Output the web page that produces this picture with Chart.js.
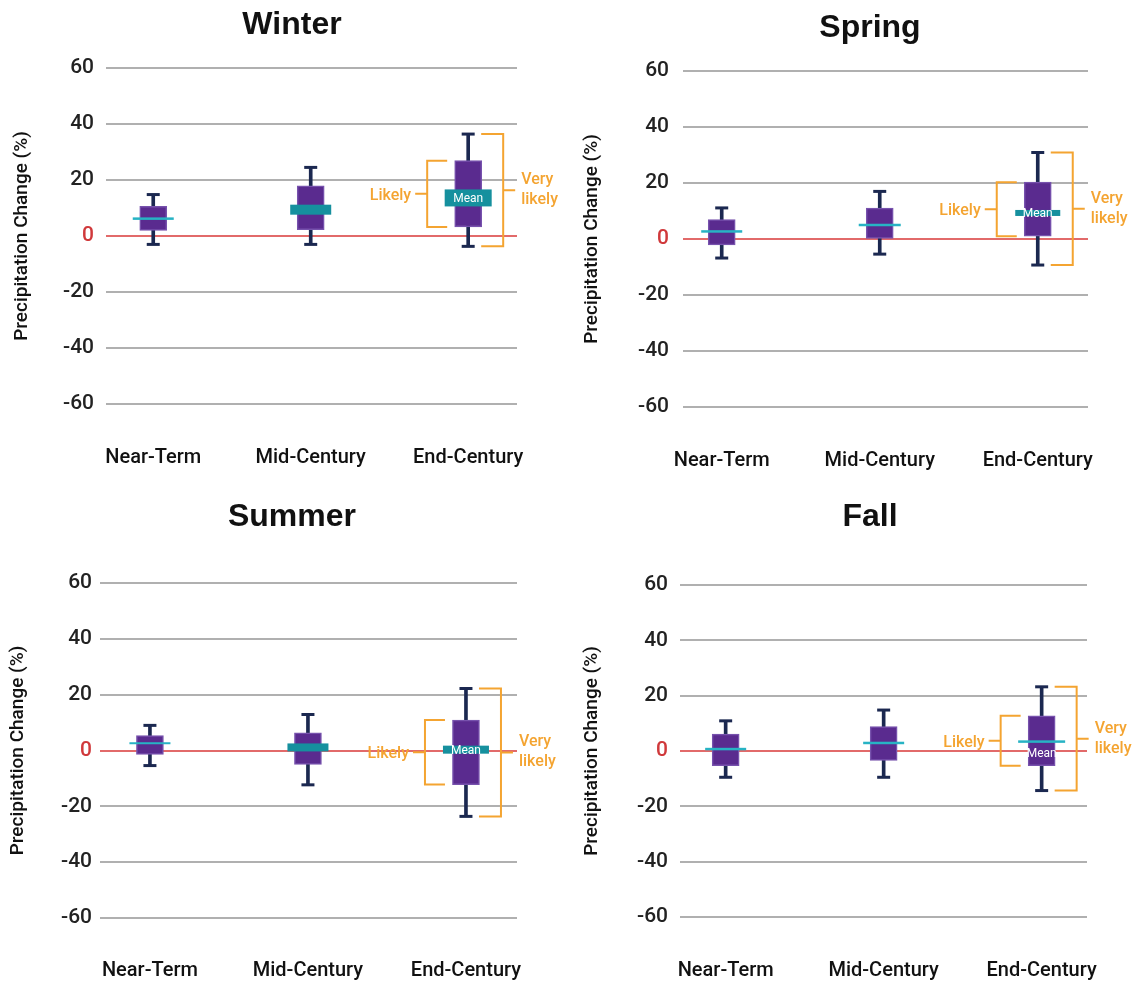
<!DOCTYPE html>
<html>
<head>
<meta charset="utf-8">
<title>Projected seasonal precipitation change</title>
<script src="https://cdn.jsdelivr.net/npm/chart.js@4.4.1/dist/chart.umd.min.js"></script>
<style>
  body { margin: 0; background: #fff; }
  #wrap { position: relative; width: 1142px; height: 983px; }
  #wrap canvas { position: absolute; }
</style>
</head>
<body>
<div id="wrap">
  <canvas id="c0" width="571" height="490" style="left:0;top:0"></canvas>
  <canvas id="c1" width="571" height="490" style="left:571px;top:0"></canvas>
  <canvas id="c2" width="571" height="493" style="left:0;top:490px"></canvas>
  <canvas id="c3" width="571" height="493" style="left:571px;top:490px"></canvas>
</div>
<script>
const seasons = ["Winter", "Spring", "Summer", "Fall"];
const periods = ["Near-Term", "Mid-Century", "End-Century"];
const yTicks = [-60, -40, -20, 0, 20, 40, 60];

// rows = seasons, columns = periods, precipitation change in %
const veryLikelyLow = [[-3.0, -3.0, -3.7], [-6.8, -5.4, -9.3], [-5.4, -12.3, -23.6], [-9.5, -9.5, -14.3]];
const likelyLow = [[2.0, 2.3, 3.2], [-2.1, 0.2, 1.0], [-1.4, -5.0, -12.2], [-5.3, -3.4, -5.3]];
const meanChange = [[6.2, 9.4, 13.6], [2.7, 5.0, 9.3], [2.6, 1.1, 0.3], [0.7, 2.9, 3.4]];
const likelyHigh = [[10.6, 17.9, 26.9], [6.9, 11.0, 20.3], [5.3, 6.3, 10.9], [6.1, 8.8, 12.7]];
const veryLikelyHigh = [[14.8, 24.5, 36.4], [11.1, 17.0, 30.9], [9.0, 12.9, 22.2], [10.9, 14.8, 23.2]];

const PURPLE = "#5a2b8f";
const NAVY = "#1b2850";
const TEAL = "#16909e";
const CYAN = "#27b3c4";
const ORANGE = "#f4a431";
const ZERO = "#e26a6a";
const GRID = "#b0b0b0";
const FONT = "Roboto, 'Liberation Sans', Arial, sans-serif";
const TITLE_FONT = "'Liberation Sans', Arial, sans-serif";

// panel layout: chart area is [left, top, right, bottom] inside each canvas
const panels = [
  { h: 490, area: [106, 68, 517, 404], titleX: 292, titleY: 25, yTitlePad: 11, tickPad: 12, xRange: [0.70, 3.31], xLabelPad: 34 },
  { h: 490, area: [112, 71, 517, 407], titleX: 299, titleY: 28, yTitlePad: 10, tickPad: 14, xRange: [0.755, 3.318], xLabelPad: 34 },
  { h: 493, area: [100, 93, 517, 428], titleX: 292, titleY: 27, yTitlePad: 7, tickPad: 8, xRange: [0.684, 3.323], xLabelPad: 33 },
  { h: 493, area: [109, 95, 516, 427], titleX: 299, titleY: 27, yTitlePad: 10, tickPad: 12, xRange: [0.711, 3.287], xLabelPad: 34 }
];

// how the mean marker looks for each period (width/height in px)
const meanStyles = [
  [{ w: 41, h: 2.5 }, { w: 41, h: 10 }, { w: 47, h: 17, label: true }],
  [{ w: 41, h: 2.5 }, { w: 42, h: 2.5 }, { w: 45, h: 6, label: true }],
  [{ w: 41, h: 2 }, { w: 41, h: 8 }, { w: 46, h: 8, label: true }],
  [{ w: 41, h: 2.5 }, { w: 41, h: 2.5 }, { w: 47, h: 2.5, label: true, below: true }]
];

function makeExtras(s, p) {
  return {
    id: "extras",
    afterDatasetsDraw(chart) {
      const ctx = chart.ctx;
      const x = chart.scales.x;
      const y = chart.scales.y;
      ctx.save();
      // mean markers
      meanChange[s].forEach((m, i) => {
        const st = meanStyles[s][i];
        const px = x.getPixelForValue(i + 1);
        const py = y.getPixelForValue(m);
        ctx.fillStyle = st.h > 3 ? TEAL : CYAN;
        ctx.fillRect(px - st.w / 2, py - st.h / 2, st.w, st.h);
        if (st.label) {
          ctx.fillStyle = "#fff";
          ctx.font = "12px " + FONT;
          ctx.textAlign = "center";
          ctx.textBaseline = "middle";
          ctx.fillText("Mean", px, st.below ? py + 12 : py + 1);
        }
      });
      // likely / very likely brackets on the last period
      const i = periods.length - 1;
      const xc = x.getPixelForValue(i + 1);
      ctx.strokeStyle = ORANGE;
      ctx.lineWidth = 2;
      ctx.fillStyle = ORANGE;
      ctx.font = "500 16px " + FONT;
      ctx.textBaseline = "middle";

      const lt = y.getPixelForValue(likelyHigh[s][i]);
      const lb = y.getPixelForValue(likelyLow[s][i]);
      const lm = (lt + lb) / 2;
      ctx.beginPath();
      ctx.moveTo(xc - 21, lt); ctx.lineTo(xc - 41, lt); ctx.lineTo(xc - 41, lb); ctx.lineTo(xc - 21, lb);
      ctx.moveTo(xc - 41, lm); ctx.lineTo(xc - 53, lm);
      ctx.stroke();
      ctx.textAlign = "right";
      ctx.fillText("Likely", xc - 57, lm + 2);

      const vt = y.getPixelForValue(veryLikelyHigh[s][i]);
      const vb = y.getPixelForValue(veryLikelyLow[s][i]);
      const vm = (vt + vb) / 2;
      ctx.beginPath();
      ctx.moveTo(xc + 13, vt); ctx.lineTo(xc + 35, vt); ctx.lineTo(xc + 35, vb); ctx.lineTo(xc + 13, vb);
      ctx.moveTo(xc + 35, vm); ctx.lineTo(xc + 47, vm);
      ctx.stroke();
      ctx.textAlign = "left";
      ctx.fillText("Very", xc + 53, vm - 10);
      ctx.fillText("likely", xc + 53, vm + 10);
      ctx.restore();
    },
    afterDraw(chart) {
      const ctx = chart.ctx;
      ctx.save();
      ctx.fillStyle = "#111";
      ctx.font = "bold 32px " + TITLE_FONT;
      ctx.textAlign = "center";
      ctx.textBaseline = "middle";
      ctx.fillText(seasons[s], p.titleX, p.titleY);
      ctx.restore();
    }
  };
}

seasons.forEach((season, s) => {
  const p = panels[s];
  const a = p.area;
  const canvas = document.getElementById("c" + s);
  const caps = [];
  periods.forEach((_, i) => {
    caps.push({ x: i + 1, y: veryLikelyHigh[s][i] });
    caps.push({ x: i + 1, y: veryLikelyLow[s][i] });
  });

  new Chart(canvas, {
    type: "bar",
    data: {
      datasets: [
        {
          type: "line",
          label: "very likely ends",
          data: caps,
          showLine: false,
          pointStyle: "line",
          pointRadius: 6.5,
          pointBorderWidth: 3,
          pointBorderColor: NAVY,
          borderColor: NAVY,
          order: 1
        },
        {
          label: "likely range",
          data: periods.map((_, i) => ({ x: i + 1, y: [likelyLow[s][i], likelyHigh[s][i]] })),
          backgroundColor: PURPLE,
          borderColor: "#7752ad",
          borderWidth: 1.5,
          borderSkipped: false,
          barThickness: 27,
          grouped: false,
          order: 2
        },
        {
          label: "very likely range",
          data: periods.map((_, i) => ({ x: i + 1, y: [veryLikelyLow[s][i], veryLikelyHigh[s][i]] })),
          backgroundColor: NAVY,
          barThickness: 3,
          grouped: false,
          order: 3
        }
      ]
    },
    options: {
      responsive: false,
      animation: false,
      layout: { padding: { top: a[1], right: canvas.width - a[2], left: 0, bottom: 0 } },
      plugins: {
        legend: { display: false },
        tooltip: { enabled: false }
      },
      scales: {
        x: {
          type: "linear",
          min: p.xRange[0],
          max: p.xRange[1],
          offset: false,
          grid: { display: false, offset: false },
          border: { display: false },
          afterBuildTicks: sc => { sc.ticks = periods.map((_, i) => ({ value: i + 1 })); },
          afterFit: sc => { sc.height = p.h - a[3]; },
          ticks: {
            callback: v => periods[v - 1],
            padding: p.xLabelPad,
            maxRotation: 0,
            autoSkip: false,
            color: "#111",
            font: { family: FONT, size: 20, weight: 500 }
          }
        },
        y: {
          min: -60,
          max: 60,
          afterBuildTicks: sc => { sc.ticks = yTicks.map(v => ({ value: v })); },
          afterFit: sc => { sc.width = a[0]; },
          grid: {
            color: c => (c.tick && c.tick.value === 0 ? ZERO : GRID),
            lineWidth: 2,
            drawTicks: false
          },
          border: { display: false },
          ticks: {
            padding: p.tickPad,
            color: c => (c.tick.value === 0 ? "#d0393b" : "#222"),
            font: { family: FONT, size: 21, weight: 500 }
          },
          title: {
            display: true,
            text: "Precipitation Change (%)",
            color: "#111",
            font: { family: FONT, size: 19, weight: 500 },
            padding: { top: p.yTitlePad, bottom: 0 }
          }
        }
      }
    },
    plugins: [makeExtras(s, p)]
  });
});
</script>
</body>
</html>
